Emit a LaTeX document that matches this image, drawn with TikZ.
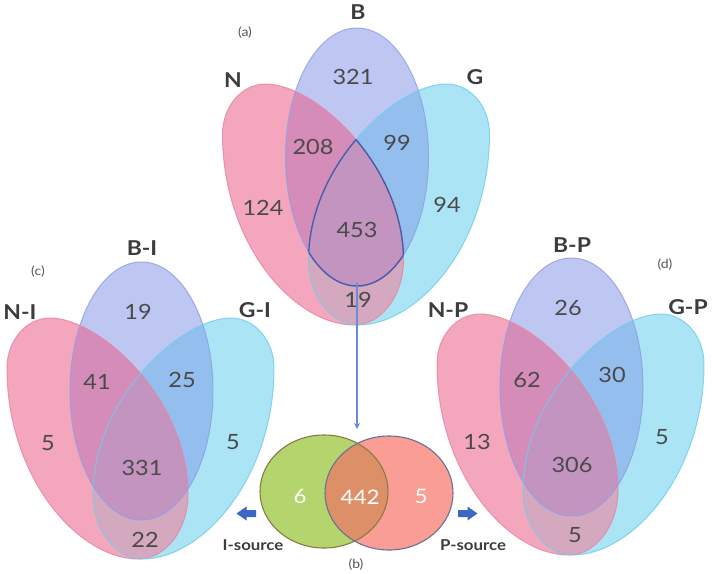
\documentclass[tikz,border=0pt]{standalone}
\usepackage{fontspec}
\setmainfont{Lato}[FakeStretch=1.12]
\usetikzlibrary{arrows.meta}
\definecolor{nfill}{HTML}{F4A6BC}
\definecolor{bfill}{HTML}{BEC6F2}
\definecolor{gfill}{HTML}{AAE4F5}
\definecolor{nbfill}{HTML}{D68CB8}
\definecolor{bgfill}{HTML}{94BEEE}
\definecolor{ngfill}{HTML}{D4A8BE}
\definecolor{nbgfill}{HTML}{C494C0}
\definecolor{nline}{HTML}{E8849F}
\definecolor{bline}{HTML}{8E9EE4}
\definecolor{gline}{HTML}{6FCDEA}
\definecolor{tline}{HTML}{4A5CA8}
\definecolor{numcol}{HTML}{4A4A4A}
\definecolor{labcol}{HTML}{3C3C3C}
\definecolor{panelcol}{HTML}{555555}
\definecolor{arrblue}{HTML}{3A68C2}
\definecolor{linkblue}{HTML}{6B8BD9}
\definecolor{grnfill}{HTML}{B4D46E}
\definecolor{grnline}{HTML}{8A7B45}
\definecolor{redfill}{HTML}{F99D95}
\definecolor{redline}{HTML}{6B7191}
\definecolor{ovlfill}{HTML}{DD9068}
\newcommand{\vennshapes}[2]{%
  \def\pN{(#1-134.5,#2+106) .. controls (#1-134.5,#2+78.4) and (#1-115.2,#2+56) .. (#1-91.5,#2+56)
     .. controls (#1-41.5,#2+56) and (#1+46.5,#2+137) .. (#1+46.5,#2+232)
     .. controls (#1+46.5,#2+268) and (#1+24,#2+297) .. (#1-3,#2+297)
     .. controls (#1-63,#2+297) and (#1-134.5,#2+216) .. cycle}%
  \def\pG{(#1+132.5,#2+106) .. controls (#1+132.5,#2+78.4) and (#1+113.2,#2+56) .. (#1+89.5,#2+56)
     .. controls (#1+39.5,#2+56) and (#1-48.5,#2+137) .. (#1-48.5,#2+232)
     .. controls (#1-48.5,#2+268) and (#1-26,#2+297) .. (#1+1,#2+297)
     .. controls (#1+61,#2+297) and (#1+132.5,#2+216) .. cycle}%
  \def\pB{(#1,#2+129) circle [x radius=71.5pt, y radius=129pt]}%
  \fill[nfill] \pN; \fill[bfill] \pB; \fill[gfill] \pG;
  \begin{scope}\clip \pN; \fill[nbfill] \pB; \fill[ngfill] \pG;\end{scope}
  \begin{scope}\clip \pB; \fill[bgfill] \pG;\end{scope}
  \begin{scope}\clip \pN; \clip \pB; \fill[nbgfill] \pG;\end{scope}
  \draw[nline, line width=1pt, draw opacity=.8] \pN;
  \draw[bline, line width=1pt, draw opacity=.8] \pB;
  \draw[gline, line width=1pt, draw opacity=.8] \pG;
}
\begin{document}
\begin{tikzpicture}[x=1pt,y=-1pt,
  num/.style={text=numcol, font=\fontsize{21}{24}\selectfont, inner sep=0pt},
  setlab/.style={text=labcol, font=\bfseries\fontsize{20.5}{24}\selectfont, inner sep=0pt},
  panel/.style={text=panelcol, font=\fontsize{12.5}{14}\selectfont, inner sep=0pt},
  srclab/.style={text=labcol, font=\bfseries\fontsize{15}{18}\selectfont, inner sep=0pt},
  wnum/.style={text=white, font=\fontsize{20}{24}\selectfont, inner sep=0pt},
  tri/.style={tline, line width=1.4pt}]
\fill[white] (0,0) rectangle (712,573);
\useasboundingbox (0,0) rectangle (712,573);

% ---------- (a) ----------
\vennshapes{357}{28}
\begin{scope}\clip \pB; \clip \pG; \draw[tri] \pN;\end{scope}
\begin{scope}\clip \pB; \clip \pN; \draw[tri] \pG;\end{scope}
\begin{scope}\clip \pN; \clip \pG; \draw[tri] \pB;\end{scope}
\node[setlab] (aB) at (358,12) {B};
\node[setlab] (aN) at (233,80) {N};
\node[setlab] (aG) at (475,77) {G};
\node[panel] (pa) at (245,33) {(a)};
\node[num] (a1) at (353,77) {321};
\node[num] (a2) at (313,147) {208};
\node[num] (a3) at (397,143) {99};
\node[num] (a4) at (263,208) {124};
\node[num] (a5) at (447,205) {94};
\node[num] (a6) at (357,230) {453};
\node[num] (a7) at (358,300) {19};

% ---------- (c) ----------
\vennshapes{141.5}{262}
\node[setlab] (cB) at (142,248) {B-I};
\node[setlab] (cN) at (20,312) {N-I};
\node[setlab] (cG) at (255,310) {G-I};
\node[panel] (pc) at (38,272) {(c)};
\node[num] (c1) at (138,312) {19};
\node[num] (c2) at (97,382) {41};
\node[num] (c3) at (182,380) {25};
\node[num] (c4) at (48,443) {5};
\node[num] (c5) at (142,468) {331};
\node[num] (c6) at (233,442) {5};
\node[num] (c7) at (145,540) {22};

% ---------- (d) ----------
\vennshapes{571.5}{258}
\node[setlab] (dB) at (572,245) {B-P};
\node[setlab] (dN) at (448,310) {N-P};
\node[setlab] (dG) at (688,307) {G-P};
\node[panel] (pd) at (665,265) {(d)};
\node[num] (d1) at (568,308) {26};
\node[num] (d2) at (527,380) {62};
\node[num] (d3) at (612,375) {30};
\node[num] (d4) at (477,442) {13};
\node[num] (d5) at (572,465) {306};
\node[num] (d6) at (662,437) {5};
\node[num] (d7) at (575,535) {5};

% ---------- (b) ----------
\def\pI{(324,491.5) circle [x radius=64pt, y radius=56.5pt]}
\def\pP{(389,493) circle [x radius=64pt, y radius=57pt]}
\fill[grnfill] \pI;
\fill[redfill] \pP;
\begin{scope}\clip \pI; \fill[ovlfill] \pP;\end{scope}
\draw[grnline, line width=1.1pt] \pI;
\draw[redline, line width=1.1pt] \pP;
\node[wnum] (b1) at (300,496) {6};
\node[wnum] (b2) at (360,497) {442};
\node[wnum] (b3) at (421,496) {5};
\node[panel] (pb) at (356,565) {(b)};

% link arrow from (a) to (b)
\coordinate (src) at (357,283);
\coordinate (btop) at (357,429);
\draw[linkblue, line width=1.5pt, -{Stealth[length=6pt,width=6pt]}] (src) -- (btop);

% block arrows and source labels
\fill[arrblue] (236.5,513.5) -- (246.5,506.5) -- (246.5,510) -- (256,510) -- (256,517) -- (246.5,517) -- (246.5,520.5) -- cycle;
\fill[arrblue] (477.5,513.5) -- (467.5,506.5) -- (467.5,510) -- (458,510) -- (458,517) -- (467.5,517) -- (467.5,520.5) -- cycle;
\node[srclab] (isrc) at (253,545) {I-source};
\node[srclab] (psrc) at (473,545) {P-source};
\end{tikzpicture}
\end{document}
